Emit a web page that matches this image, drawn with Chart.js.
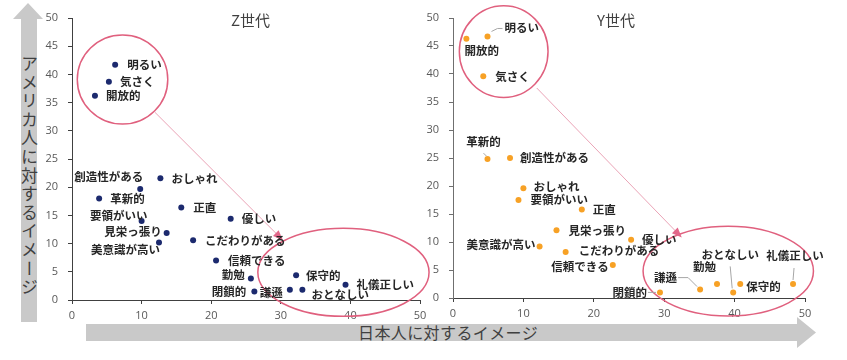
<!DOCTYPE html>
<html>
<head>
<meta charset="utf-8">
<script src="https://cdn.jsdelivr.net/npm/chart.js@4.4.0/dist/chart.umd.min.js"></script>
<style>
  body { margin:0; background:#fff; width:847px; height:360px; position:relative; overflow:hidden; }
  canvas { position:absolute; left:0; top:0; }
  .shape { position:absolute; background:#c9c9c9; }
  #upArrow { left:13px; top:3px; width:30px; height:319px;
    clip-path: polygon(15px 0, 30px 16px, 24px 16px, 24px 319px, 8px 319px, 8px 16px, 0 16px); }
  #rightArrow { left:86px; top:317px; width:730px; height:32px;
    clip-path: polygon(0 7px, 711px 7px, 711px 0, 730px 15.5px, 711px 31px, 711px 24px, 0 24px); }
  .txt { position:absolute; color:#404040; font-family:"Noto Sans CJK JP", sans-serif; white-space:nowrap; }
  #vText { left:20px; top:55px; width:19px; line-height:19px; font-size:17px; letter-spacing:1.6px; writing-mode:vertical-rl; }
  #hText { left:358px; top:323px; line-height:18px; font-size:16px; letter-spacing:0.4px; }
  .title { top:10px; font-size:15px; line-height:20px; }
</style>
</head>
<body>
<div class="shape" id="upArrow"></div>
<div class="shape" id="rightArrow"></div>
<div class="txt" id="vText">アメリカ人に対するイメージ</div>
<div class="txt" id="hText">日本人に対するイメージ</div>
<canvas id="chartZ" width="847" height="360"></canvas>
<canvas id="chartY" width="847" height="360"></canvas>
<div class="txt title" style="left:231px">Z世代</div>
<div class="txt title" style="left:597px">Y世代</div>
<script>
// 項目名 (両グラフ共通)
var words = ['明るい','気さく','開放的','おしゃれ','創造性がある','革新的','正直','優しい','要領がいい','見栄っ張り',
             '美意識が高い','こだわりがある','信頼できる','勤勉','閉鎖的','保守的','謙遜','おとなしい','礼儀正しい'];

// Z世代: 日本人に対するイメージ(x) / アメリカ人に対するイメージ(y)
var japanZ   = [6.2, 5.3, 3.3, 12.7, 9.8, 3.9, 15.7, 22.8, 10.0, 13.6, 12.5, 17.4, 20.7, 25.7, 26.2, 32.2, 31.3, 33.1, 39.3];
var americaZ = [41.7, 38.7, 36.2, 21.6, 19.7, 18.0, 16.4, 14.4, 14.0, 11.9, 10.2, 10.6, 7.0, 3.8, 1.5, 4.4, 1.8, 1.8, 2.7];

// Y世代
var japanY   = [4.9, 4.3, 1.9, 10.0, 8.1, 4.9, 18.3, 25.3, 9.3, 14.7, 12.3, 16.0, 22.7, 37.5, 29.4, 40.8, 35.1, 39.8, 48.3];
var americaY = [46.7, 39.6, 46.3, 19.6, 25.0, 24.8, 15.8, 10.4, 17.5, 12.1, 9.2, 8.2, 5.9, 2.5, 1.0, 2.5, 1.5, 1.0, 2.5];

var xTicks = [0, 10, 20, 30, 40, 50];
var yTicks = [0, 5, 10, 15, 20, 25, 30, 35, 40, 45, 50];

// 丸囲み [x, y, 半径x, 半径y] と矢印 (データ座標)
var ringsZ = [[7.26, 39.1, 6.5, 7.9], [39.0, 4.9, 12.3, 7.8]];
var arrowZ = [[11.9, 33.3], [30.3, 10.6]];
var ringsY = [[7.2, 44.0, 6.3, 8.2], [39.1, 4.8, 12.1, 8.0]];
var arrowY = [[11.9, 37.5], [32.5, 10.8]];

// ラベルの置き方 [textAlign, dx, dy, 引き出し線]
var placeZ = [
  ['left',12,0],['left',11,0],['left',11,0],['left',11,0],['right',3,-12],['left',11,0],['left',12,0],['left',11,0],
  ['right',6,-5],['right',-5,-1],['right',1,7],['left',12,0],['left',12,0],['right',-6,-4],['right',-8,0],
  ['left',10,0],['right',-7,3],['left',9,5],['left',11,0]
];
var placeY = [
  ['left',17,-9,[[4,-5],[10,-8],[15,-8]]],['left',12,0],['left',-2,12],['left',10,-2],['left',10,0],
  ['center',-4,-17,[[-1,-3],[-4,-6]]],['left',11,0],['left',11,0],['left',12,0],['left',12,0],
  ['right',-4,-2],['left',13,-1],['right',-4,2],['right',-1,-17],['right',-13,0,[[-4,0],[-12,0]]],
  ['left',6,3],['right',-23,-12,[[-3,-3],[-12,-12],[-22,-12]]],['center',-3,-38,[[-3,-26],[-1,-4]]],
  ['center',2,-28,[[1,-16],[0,-4]]]
];

var markup = {
  id: 'markup',
  afterDatasetsDraw: function(chart, args, opts) {
    var ctx = chart.ctx, xs = chart.scales.x, ys = chart.scales.y;
    var px = function(v){ return xs.getPixelForValue(v); };
    var py = function(v){ return ys.getPixelForValue(v); };
    ctx.save();

    // 丸囲み
    ctx.strokeStyle = '#e0607e';
    ctx.lineWidth = 1.5;
    opts.rings.forEach(function(r){
      var cx = px(r[0]), cy = py(r[1]);
      ctx.beginPath();
      ctx.ellipse(cx, cy, px(r[0] + r[2]) - cx, cy - py(r[1] + r[3]), 0, 0, Math.PI * 2);
      ctx.stroke();
    });

    // 矢印
    var x1 = px(opts.arrow[0][0]), y1 = py(opts.arrow[0][1]);
    var x2 = px(opts.arrow[1][0]), y2 = py(opts.arrow[1][1]);
    var ang = Math.atan2(y2 - y1, x2 - x1);
    ctx.strokeStyle = '#eaa3b6';
    ctx.lineWidth = 1;
    ctx.beginPath();
    ctx.moveTo(x1, y1);
    ctx.lineTo(x2 - 8 * Math.cos(ang), y2 - 8 * Math.sin(ang));
    ctx.stroke();
    ctx.fillStyle = '#e2678a';
    ctx.beginPath();
    ctx.moveTo(x2, y2);
    ctx.lineTo(x2 - 10 * Math.cos(ang) + 4 * Math.sin(ang), y2 - 10 * Math.sin(ang) - 4 * Math.cos(ang));
    ctx.lineTo(x2 - 10 * Math.cos(ang) - 4 * Math.sin(ang), y2 - 10 * Math.sin(ang) + 4 * Math.cos(ang));
    ctx.closePath();
    ctx.fill();

    // ラベル
    var meta = chart.getDatasetMeta(0);
    ctx.font = 'bold 11.5px "Noto Sans CJK JP"';
    ctx.textBaseline = 'middle';
    meta.data.forEach(function(pt, i){
      var p = opts.place[i];
      if (p[3]) {
        ctx.strokeStyle = '#a6a6a6';
        ctx.lineWidth = 1;
        ctx.beginPath();
        p[3].forEach(function(q, k){
          if (k == 0) ctx.moveTo(pt.x + q[0], pt.y + q[1]);
          else ctx.lineTo(pt.x + q[0], pt.y + q[1]);
        });
        ctx.stroke();
      }
      ctx.fillStyle = '#262626';
      ctx.textAlign = p[0];
      ctx.fillText(opts.names[i], pt.x + p[1], pt.y + p[2]);
    });
    ctx.restore();
  }
};

function makeChart(id, xs, ys, color, pad, yWidth, yAxisColor, rings, arrow, place) {
  var pts = xs.map(function(v, i){ return {x: v, y: ys[i]}; });
  return new Chart(document.getElementById(id), {
    type: 'scatter',
    data: { datasets: [{ data: pts, backgroundColor: color, borderWidth: 0, pointRadius: 3, pointHoverRadius: 3 }] },
    plugins: [markup],
    options: {
      responsive: false,
      animation: false,
      layout: { padding: pad },
      plugins: {
        legend: { display: false },
        tooltip: { enabled: false },
        markup: { rings: rings, arrow: arrow, place: place, names: words }
      },
      scales: {
        x: {
          type: 'linear', min: 0, max: 50,
          afterBuildTicks: function(s){ s.ticks = xTicks.map(function(v){ return {value: v}; }); },
          afterFit: function(s){ s.height = 30; },
          ticks: { color: '#595959', font: { family: 'Open Sans', size: 11 }, padding: 5 },
          grid: { drawOnChartArea: false, drawTicks: true, tickLength: 4, tickColor: '#404040' },
          border: { color: '#404040', width: 1 }
        },
        y: {
          type: 'linear', min: 0, max: 50,
          afterBuildTicks: function(s){ s.ticks = yTicks.map(function(v){ return {value: v}; }); },
          afterFit: function(s){ s.width = yWidth; },
          ticks: { color: '#595959', font: { family: 'Open Sans', size: 11 }, padding: 10 },
          grid: { drawOnChartArea: false, drawTicks: true, tickLength: 4, tickColor: yAxisColor },
          border: { color: yAxisColor, width: 1 }
        }
      }
    }
  });
}

makeChart('chartZ', japanZ, americaZ, '#1c2a6e', {left: 40, right: 427, top: 18, bottom: 30}, 32, '#404040', ringsZ, arrowZ, placeZ);
makeChart('chartY', japanY, americaY, '#f7a125', {left: 420, right: 42, top: 18, bottom: 32}, 33, '#6f6f6f', ringsY, arrowY, placeY);
</script>
</body>
</html>
